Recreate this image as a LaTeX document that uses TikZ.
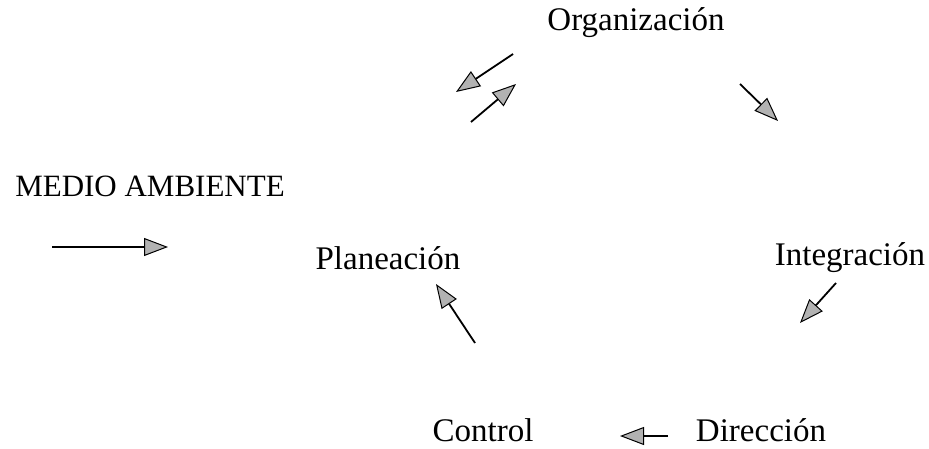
\documentclass[tikz,border=0pt]{standalone}
\usepackage{fontspec}
\setmainfont{Liberation Serif}
\usetikzlibrary{arrows.meta}
\begin{document}
\begin{tikzpicture}[x=1pt,y=-1pt,
  lbl/.style={inner sep=0pt,font=\fontsize{33}{36}\selectfont,anchor=center},
  arr/.style={line width=1.8pt,-{Triangle[length=24pt,width=18pt,fill=gray!60,line width=1pt]}}]
\useasboundingbox (0,0) rectangle (929,449);
\node[lbl] (org) at (636,23) {Organización};
\node[lbl,font=\fontsize{31}{34}\selectfont] (med) at (150,186) {MEDIO AMBIENTE};
\node[lbl] (pla) at (388,258) {Planeación};
\node[lbl] (int) at (850,258) {Integración};
\node[lbl] (con) at (483,430) {Control};
\node[lbl] (dir) at (761,430) {Dirección};
\coordinate (a1s) at (513,54);  \coordinate (a1e) at (456,92);
\coordinate (a2s) at (471,122); \coordinate (a2e) at (516,84);
\coordinate (a3s) at (740,84);  \coordinate (a3e) at (778,121);
\coordinate (a4s) at (836,283); \coordinate (a4e) at (800,323);
\coordinate (a5s) at (668,436); \coordinate (a5e) at (620,436);
\coordinate (a6s) at (475,343); \coordinate (a6e) at (436,284);
\coordinate (a7s) at (52,247);  \coordinate (a7e) at (168,247);
\draw[arr] (a1s) -- (a1e);
\draw[arr] (a2s) -- (a2e);
\draw[arr] (a3s) -- (a3e);
\draw[arr] (a4s) -- (a4e);
\draw[arr] (a5s) -- (a5e);
\draw[arr] (a6s) -- (a6e);
\draw[arr] (a7s) -- (a7e);
\end{tikzpicture}
\end{document}
